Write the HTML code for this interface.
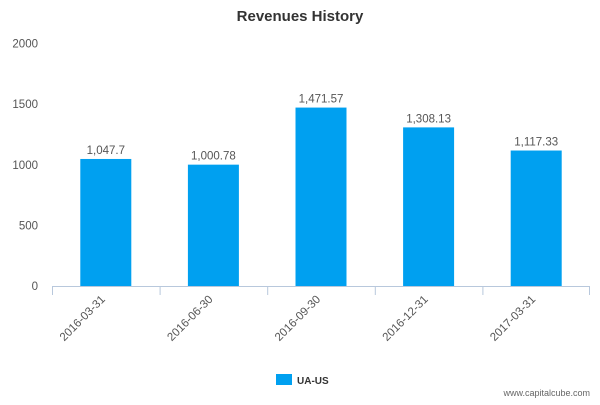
<!DOCTYPE html>
<html><head><meta charset="utf-8"><style>
body{margin:0;background:#fff;font-family:"Liberation Sans",sans-serif}
svg text{font-family:"Liberation Sans",sans-serif}
</style></head><body>
<svg id="c" width="600" height="400">
<text x="300" y="21" text-anchor="middle" font-size="15" font-weight="bold" fill="#333">Revenues History</text>
<g id="yax"></g><g id="bars"></g><g id="xax"></g>
<rect x="276" y="374" width="16" height="11" fill="#00a0f0"/>
<text x="297" y="384" font-size="10" font-weight="bold" fill="#333">UA-US</text>
<text x="590" y="396" text-anchor="end" font-size="9" fill="#666">www.capitalcube.com</text>
</svg>
<script>
const categories=["2016-03-31","2016-06-30","2016-09-30","2016-12-31","2017-03-31"];
const values=[1047.7,1000.78,1471.57,1308.13,1117.33];
const valueLabels=["1,047.7","1,000.78","1,471.57","1,308.13","1,117.33"];
const yTicks=[0,500,1000,1500,2000];
const NS="http://www.w3.org/2000/svg";
const x0=52,x1=590,yb=286,yt=43.5,ymax=2000;
const cw=(x1-x0)/categories.length,bw=51;
const y=v=>yb-(v/ymax)*(yb-yt);
function mk(t,a,p){const e=document.createElementNS(NS,t);for(const k in a)e.setAttribute(k,a[k]);p.appendChild(e);return e;}
const yax=document.getElementById('yax'),bars=document.getElementById('bars'),xax=document.getElementById('xax');
yTicks.forEach(v=>{const t=mk('text',{x:38,y:y(v)+4,'text-anchor':'end','font-size':11.5,fill:'#555'},yax);t.textContent=v;

});
const al=mk('line',{x1:x0,x2:x1,y1:yb+0.5,y2:yb+0.5,stroke:'#b8c8dc'},xax);


categories.forEach((c,i)=>{
const cx=x0+cw*(i+0.5);
const r=mk('rect',{x:cx-bw/2,y:y(values[i]),width:bw,height:yb-y(values[i]),fill:'#00a0f0'},bars);


const l=mk('text',{x:cx,y:y(values[i])-5,'text-anchor':'middle','font-size':11.5,fill:'#555'},bars);l.textContent=valueLabels[i];


const tk=mk('line',{x1:x0+cw*i+0.5,x2:x0+cw*i+0.5,y1:yb,y2:yb+9,stroke:'#b8c8dc'},xax);


const tl=mk('text',{x:cx,y:yb+14,'text-anchor':'end','font-size':11.5,fill:'#555',transform:`rotate(-45 ${cx} ${yb+14})`},xax);tl.textContent=c;


});
const te=mk('line',{x1:x1-0.5,x2:x1-0.5,y1:yb,y2:yb+9,stroke:'#b8c8dc'},xax);


</script>
</body></html>
